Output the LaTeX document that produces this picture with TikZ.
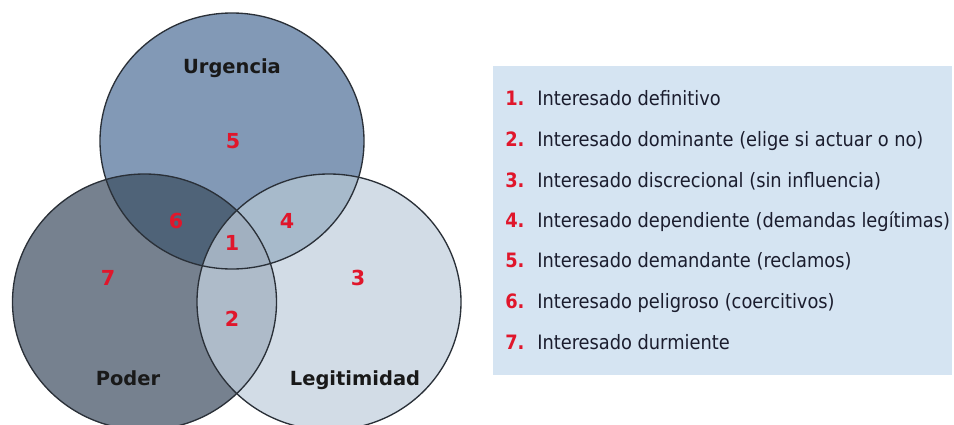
\documentclass[tikz,border=0pt]{standalone}
\usepackage{fontspec}
\setmainfont{DejaVu Sans}
\newfontfamily\listfont{DejaVu Sans Condensed}
\definecolor{cU}{HTML}{8299B6}
\definecolor{cP}{HTML}{76818F}
\definecolor{cL}{HTML}{D2DCE6}
\definecolor{cUP}{HTML}{4F6378}
\definecolor{cUL}{HTML}{A7BACB}
\definecolor{cPL}{HTML}{AEBBC9}
\definecolor{cUPL}{HTML}{A1B0C0}
\definecolor{cBox}{HTML}{D5E4F2}
\definecolor{cEdge}{HTML}{2A3038}
\definecolor{cNum}{HTML}{E0162B}
\definecolor{cTxt}{HTML}{1B1D2E}
\tikzset{
  setlabel/.style={font=\fontsize{14.6pt}{16pt}\selectfont\bfseries, text=black!90, inner sep=0pt, anchor=base},
  region/.style={font=\fontsize{15.5pt}{16pt}\selectfont\bfseries, text=cNum, inner sep=0pt, anchor=base},
  listnum/.style={font=\listfont\fontsize{14.85pt}{16pt}\selectfont\bfseries, text=cNum, inner sep=0pt, anchor=base west},
  listtxt/.style={font=\listfont\fontsize{14.85pt}{16pt}\selectfont, text=cTxt, inner sep=0pt, anchor=base west},
  ring/.style={draw=cEdge, line width=1pt}
}
\begin{document}
\begin{tikzpicture}[x=0.75pt,y=-0.75pt]
\useasboundingbox (0,0) rectangle (954,425);
\clip (0,0) rectangle (954,425);
\fill[white] (0,0) rectangle (954,425);
% circle centres
\coordinate (U) at (232,141);
\coordinate (P) at (144.5,302);
\coordinate (L) at (329,302);
\def\sh{ellipse[x radius=99pt, y radius=96pt]}
% base fills
\fill[cU] (U) \sh;
\fill[cP] (P) \sh;
\fill[cL] (L) \sh;
% pairwise overlaps
\begin{scope}
  \clip (U) \sh;
  \fill[cUP] (P) \sh;
  \fill[cUL] (L) \sh;
\end{scope}
\begin{scope}
  \clip (P) \sh;
  \fill[cPL] (L) \sh;
  \clip (L) \sh;
  \fill[cUPL] (U) \sh;
\end{scope}
% outlines
\draw[ring] (U) \sh;
\draw[ring] (P) \sh;
\draw[ring] (L) \sh;
% set labels
\node[setlabel] (lu) at (232,73) {Urgencia};
\node[setlabel] (lp) at (128,385) {Poder};
\node[setlabel] (ll) at (355,385) {Legitimidad};
% region numbers
\node[region] (r5) at (233,148) {5};
\node[region] (r6) at (176,228) {6};
\node[region] (r4) at (287,228) {4};
\node[region] (r1) at (232,250) {1};
\node[region] (r7) at (108,285) {7};
\node[region] (r3) at (358,285) {3};
\node[region] (r2) at (232,326) {2};
% legend box
\fill[cBox] (493,66) rectangle (952,375);
\node[listnum] (n1) at (505,105) {1.};
\node[listtxt] (t1) at (537,105) {Interesado definitivo};
\node[listnum] (n2) at (505,146) {2.};
\node[listtxt] (t2) at (537,146) {Interesado dominante (elige si actuar o no)};
\node[listnum] (n3) at (505,187) {3.};
\node[listtxt] (t3) at (537,187) {Interesado discrecional (sin influencia)};
\node[listnum] (n4) at (505,227) {4.};
\node[listtxt] (t4) at (537,227) {Interesado dependiente (demandas legítimas)};
\node[listnum] (n5) at (505,267) {5.};
\node[listtxt] (t5) at (537,267) {Interesado demandante (reclamos)};
\node[listnum] (n6) at (505,308) {6.};
\node[listtxt] (t6) at (537,308) {Interesado peligroso (coercitivos)};
\node[listnum] (n7) at (505,349) {7.};
\node[listtxt] (t7) at (537,349) {Interesado durmiente};
\end{tikzpicture}
\end{document}
